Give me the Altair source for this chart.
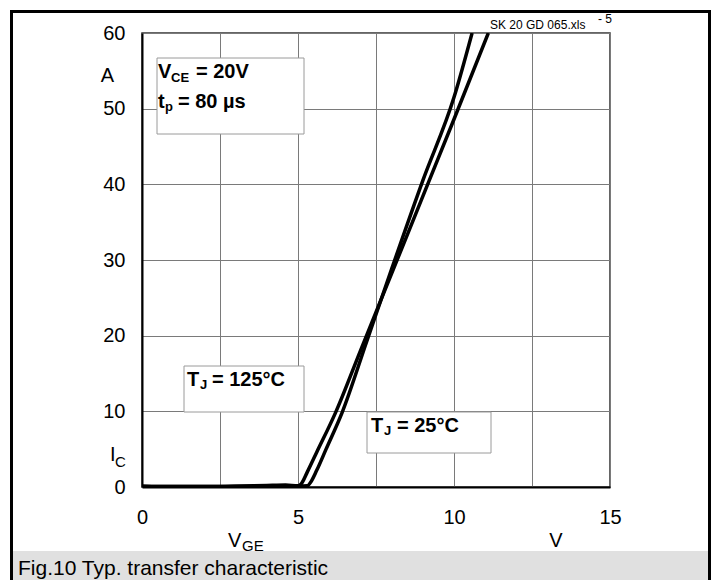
import altair as alt
import pandas as pd

# ---- data ----
vge_125 = [0.0, 1.0, 2.0, 3.0, 4.0, 4.6, 5.0, 5.1, 5.3, 5.6, 6.2, 7.0, 8.0, 9.0, 10.0, 11.1]
ic_125 = [0.1, 0.05, 0.05, 0.1, 0.2, 0.25, 0.15, 0.4, 2.0, 4.6, 9.8, 18.0, 28.2, 38.4, 48.6, 60.0]

vge_25 = [0.0, 1.0, 2.0, 3.0, 4.0, 5.0, 5.3, 5.4, 5.6, 5.9, 6.41, 7.2, 8.0, 9.0, 10.0, 10.58]
ic_25 = [0.1, 0.05, 0.05, 0.1, 0.1, 0.1, 0.15, 0.6, 2.2, 5.0, 9.8, 19.2, 28.8, 40.5, 51.5, 60.0]

x_grid = [0, 2.5, 5, 7.5, 10, 12.5, 15]
y_grid = [0, 10, 20, 30, 40, 50, 60]

FONT = "Liberation Sans"

# plot area placement on the page (px)
X0, Y0 = 142, 33
W, H = 468, 454

df = pd.concat([
    pd.DataFrame({"vge": vge_125, "ic": ic_125, "series": "125"}),
    pd.DataFrame({"vge": vge_25, "ic": ic_25, "series": "25"}),
])

one = pd.DataFrame({"k": [0]})


def txt(text, px, py, size, bold=False, align="left", baseline="alphabetic"):
    return alt.Chart(one).mark_text(
        text=text, fontSize=size, fontWeight="bold" if bold else "normal",
        align=align, baseline=baseline, font=FONT, color="black",
    ).encode(x=alt.value(px - X0), y=alt.value(py - Y0))


def box(px1, py1, px2, py2, fill, stroke, sw, fill_opacity=1.0):
    return alt.Chart(one).mark_rect(
        fill=fill, fillOpacity=fill_opacity, stroke=stroke, strokeWidth=sw
    ).encode(
        x=alt.value(px1 - X0), x2=alt.value(px2 - X0),
        y=alt.value(py1 - Y0), y2=alt.value(py2 - Y0),
    )


xs = alt.Scale(domain=[0, 15], nice=False, zero=False)
ys = alt.Scale(domain=[0, 60], nice=False, zero=False)

lines = alt.Chart(df).mark_line(
    strokeWidth=3.5, color="black", interpolate="monotone", clip=True
).encode(
    x=alt.X("vge:Q", scale=xs, title=None,
            axis=alt.Axis(values=x_grid, labelExpr="datum.value % 5 == 0 ? datum.label : ''",
                          ticks=False, labelPadding=20, labelFontSize=20, labelFont=FONT,
                          labelColor="black", gridColor="#7a7a7a", gridWidth=1,
                          domainColor="black", domainWidth=2, labelFlush=False)),
    y=alt.Y("ic:Q", scale=ys, title=None,
            axis=alt.Axis(values=y_grid, ticks=False, labelPadding=17, labelFontSize=20,
                          labelFont=FONT, labelColor="black", gridColor="#7a7a7a", gridWidth=1,
                          domainColor="black", domainWidth=2, labelFlush=False)),
    detail="series:N",
)

layers = [
    box(11.5, 551, 709.5, 600, "#e0e0e0", "#e0e0e0", 0),
    box(11.5, 11.5, 709.5, 640, "white", "black", 3, fill_opacity=0),
    lines,
    # annotation boxes
    box(157, 58, 304, 134, "white", "#9a9a9a", 1),
    box(184, 366, 304, 412, "white", "#9a9a9a", 1),
    box(367, 412, 491, 453, "white", "#9a9a9a", 1),
    # box 1 text
    txt("V", 158, 78, 20, True),
    txt("CE", 171, 82, 13, True),
    txt("= 20V", 196, 78, 20, True),
    txt("t", 158, 108, 20, True),
    txt("p", 165, 111, 13, True),
    txt("= 80 µs", 178, 108, 20, True),
    # T_J = 125 °C
    txt("T", 187, 386, 20, True),
    txt("J", 200, 389, 13, True),
    txt("= 125°C", 212, 386, 20, True),
    # T_J = 25 °C
    txt("T", 371, 432, 20, True),
    txt("J", 384, 435, 13, True),
    txt("= 25°C", 397, 432, 20, True),
    # axis unit labels
    txt("A", 107.5, 82, 20, align="center"),
    txt("I", 110, 461, 20),
    txt("C", 115, 467, 15),
    txt("V", 228, 547, 20),
    txt("GE", 242, 551, 15),
    txt("V", 556, 547, 20, align="center"),
    # header / caption
    txt("SK 20 GD 065.xls", 490, 29, 12),
    txt("- 5", 598, 23, 12),
    txt("Fig.10 Typ. transfer characteristic", 18, 575, 21),
]

chart = alt.layer(*layers).properties(
    width=W, height=H,
    padding={"left": X0 - 8, "top": Y0 - 8, "right": 703 - (X0 - 8) - W, "bottom": 572 - (Y0 - 8) - H},
    autosize=alt.AutoSizeParams(type="none"),
    background="white",
).configure_view(stroke="#333333", strokeWidth=1.5).configure_axis(grid=True)

chart.save("out.html", embed_options={"renderer": "svg", "actions": False})
